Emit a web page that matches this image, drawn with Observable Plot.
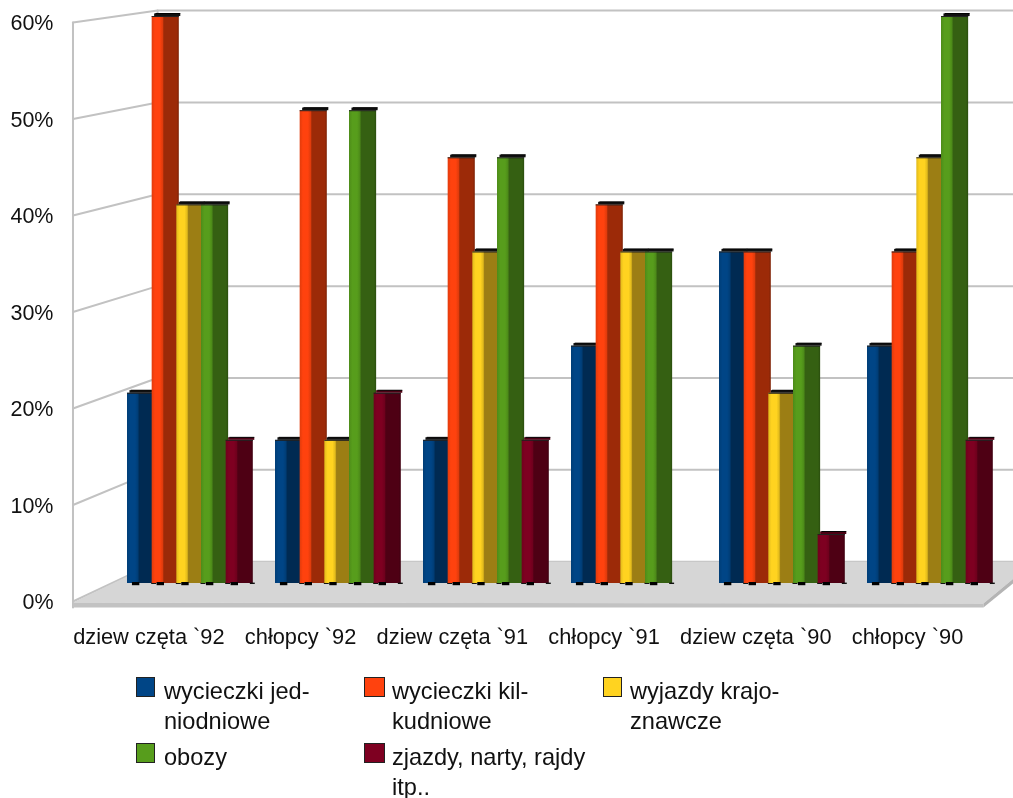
<!DOCTYPE html>
<html><head><meta charset="utf-8">
<script src="https://cdn.jsdelivr.net/npm/d3@7"></script>
<script src="https://cdn.jsdelivr.net/npm/@observablehq/plot@0.6"></script>
<style>
html,body{margin:0;padding:0;background:#fff;overflow:hidden}
#wrap{position:relative;width:1013px;height:798px;font-family:"Liberation Sans",Arial,sans-serif;color:#111}
#chart svg{display:block;filter:blur(.45px)}
.lg{position:absolute;font-size:23.6px;line-height:29.5px;white-space:nowrap;filter:blur(.4px)}
.sw{position:absolute;height:18px;border:1px solid #222;filter:blur(.3px)}
</style></head><body><div id="wrap"><div id="chart"></div><div id="legend"></div></div>
<script>
const groups = ["dziew częta `92","chłopcy `92","dziew częta `91","chłopcy `91","dziew częta `90","chłopcy `90"];
const seriesNames = ["wycieczki jed-\nniodniowe","wycieczki kil-\nkudniowe","wyjazdy krajo-\nznawcze","obozy","zjazdy, narty, rajdy\nitp.."];
const jednodniowe = [20,15,15,25,35,25];
const kilkudniowe = [60,50,45,40,35,35];
const krajoznawcze = [40,15,35,35,20,45];
const obozy = [40,50,45,35,25,60];
const zjazdy = [15,20,15,null,5,15];
const seriesValues = [jednodniowe,kilkudniowe,krajoznawcze,obozy,zjazdy];
const faceColors = ["#004586","#ff420e","#ffd320","#579d1c","#7e0021"];
const darkColors = ["#002a52","#9c2a08","#9c7e14","#356012","#4e0014"];
const yTicks = [0,10,20,30,40,50,60];

// depth projection: depth 0 = front plane (y scale), 1 = back wall
const backRatio = 0.952, backLift = 4.12;
const py = (v,d) => v*(1-d+d*backRatio) + d*backLift;
const slotPx = 148/6;
const frontX = -2.21, backX = 1.22, frontRight = 34.7, backRight = 36.75;
const slotsPerGroup = 6, barW = 1.1;

const bars = [];
seriesValues.forEach((vals,s)=>vals.forEach((v,g)=>{ if(v!=null) bars.push({s,g,v,x1:g*slotsPerGroup+s,x2:g*slotsPerGroup+s+barW,top:py(v,.5),base:py(-0.2,.5)}); }));
const wallLines = yTicks.flatMap(v=>[
  {k:v,x:frontX,y:py(v,0)},
  {k:v,x:backX,y:py(v,1)},
  {k:v,x:backRight,y:py(v,1)}
]);
const floorTop = [{x:frontX,y:py(-.1,0)},{x:backX,y:py(0,1)},{x:backRight,y:py(0,1)},{x:frontRight,y:py(-.2,0)}];
const floorFront = [{x:frontX,y:py(-.1,0)},{x:frontRight,y:py(-.2,0)},{x:frontRight,y:py(-.62,0)},{x:frontX,y:py(-.62,0)}];
const floorSide = [{x:frontRight,y:py(-.2,0)},{x:backRight,y:py(0,1)},{x:backRight,y:py(-.5,1)},{x:frontRight,y:py(-.62,0)}];
const frontStep = (frontRight-frontX)/6;
const xTicks = groups.map((_,i)=>frontX+frontStep*(i+.5));

function gradients(){
  const defs = d3.create("svg:defs");
  faceColors.forEach((c,i)=>{
    const g = defs.append("linearGradient").attr("id","bar"+i);
    const low = d3.interpolateRgb(c,darkColors[i])(.3);
    [[0,low],[.12,c],[.3,c],[.4,low],[.45,darkColors[i]],[.92,darkColors[i]],[1,d3.interpolateRgb(darkColors[i],"#000")(.2)]]
      .forEach(([o,col])=>g.append("stop").attr("offset",o).attr("stop-color",col));
  });
  return defs.node();
}

const plot = Plot.plot({
  width:1013, height:670, marginLeft:56, marginRight:0, marginTop:22, marginBottom:69,
  x:{domain:[(56-127)/slotPx,(1013-127)/slotPx]},
  y:{domain:[0,60]},
  style:{fontFamily:'"Liberation Sans",Arial,sans-serif',background:"#fff",color:"#111",overflow:"hidden"},
  marks:[
    gradients,
    Plot.axisY({ticks:yTicks,tickFormat:d=>d+"%",tickSize:0,tickPadding:3,fontSize:21.5,label:null,fill:"#111",dy:1}),
    Plot.axisX({ticks:xTicks,tickFormat:(d,i)=>groups[i],tickSize:0,tickPadding:27,fontSize:21.8,label:null,fill:"#111"}),
    Plot.line(wallLines,{x:"x",y:"y",z:"k",stroke:"#c2c2c2",strokeWidth:2}),
    Plot.line([{x:frontX,y:py(60,0)},{x:frontX,y:py(-.62,0)}],{x:"x",y:"y",stroke:"#c2c2c2",strokeWidth:2}),
    Plot.line([{x:backX,y:py(60,1)},{x:backX,y:py(0,1)}],{x:"x",y:"y",stroke:"#c2c2c2",strokeWidth:2}),
    Plot.line(floorTop,{x:"x",y:"y",fill:"#d6d6d6",stroke:null}),
    Plot.line(floorFront,{x:"x",y:"y",fill:"#c2c2c2",stroke:null}),
    Plot.line(floorSide,{x:"x",y:"y",fill:"#b4b4b4",stroke:null}),
    ...faceColors.map((c,s)=>{
      const d = bars.filter(b=>b.s===s);
      return Plot.marks(
        Plot.rect(d,{x1:"x1",x2:"x2",y1:"base",y2:"top",fill:`url(#bar${s})`}),
        Plot.rect(d,{x1:b=>b.x1+.1,x2:b=>b.x2+.06,y1:"top",y2:"top",insetTop:-2.6,insetBottom:0,fill:s===4?darkColors[s]:"#111"}),
        Plot.rect(d,{x1:b=>b.x1+.15,x2:b=>b.x2+.06,y1:"top",y2:"top",insetTop:-3,insetBottom:2,fill:"#000"}),
        Plot.rect(d,{x1:"x1",x2:"x2",y1:"top",y2:"top",insetTop:0,insetBottom:-1,fill:"#222"}),
        Plot.rect(d,{x1:b=>b.x1+.2,x2:b=>b.x1+.5,y1:"base",y2:"base",insetTop:-1,insetBottom:-2.2,fill:"#000"}),
        Plot.rect(d,{x1:b=>b.x2-.12,x2:b=>b.x2+.08,y1:"base",y2:"base",insetTop:-.4,insetBottom:-1,fill:"#111"})
      );
    })
  ]
});
document.getElementById("chart").append(plot);

// legend below the plot
const legendCols = [136,364,603];
const swatchW = [17,19,17];
const legendRows = [677,743];
const legend = document.getElementById("legend");
seriesNames.forEach((n,i)=>{
  const c = legendCols[i%3], r = legendRows[Math.floor(i/3)];
  const sw = document.createElement("div"); sw.className="sw";
  sw.style.cssText=`left:${c}px;top:${r}px;width:${swatchW[i%3]}px;background:${faceColors[i]}`;
  const t = document.createElement("div"); t.className="lg";
  t.style.cssText=`left:${c+(i%3===2?27:28)}px;top:${r}px`;
  t.innerText = n;
  legend.append(sw,t);
});
</script></body></html>
